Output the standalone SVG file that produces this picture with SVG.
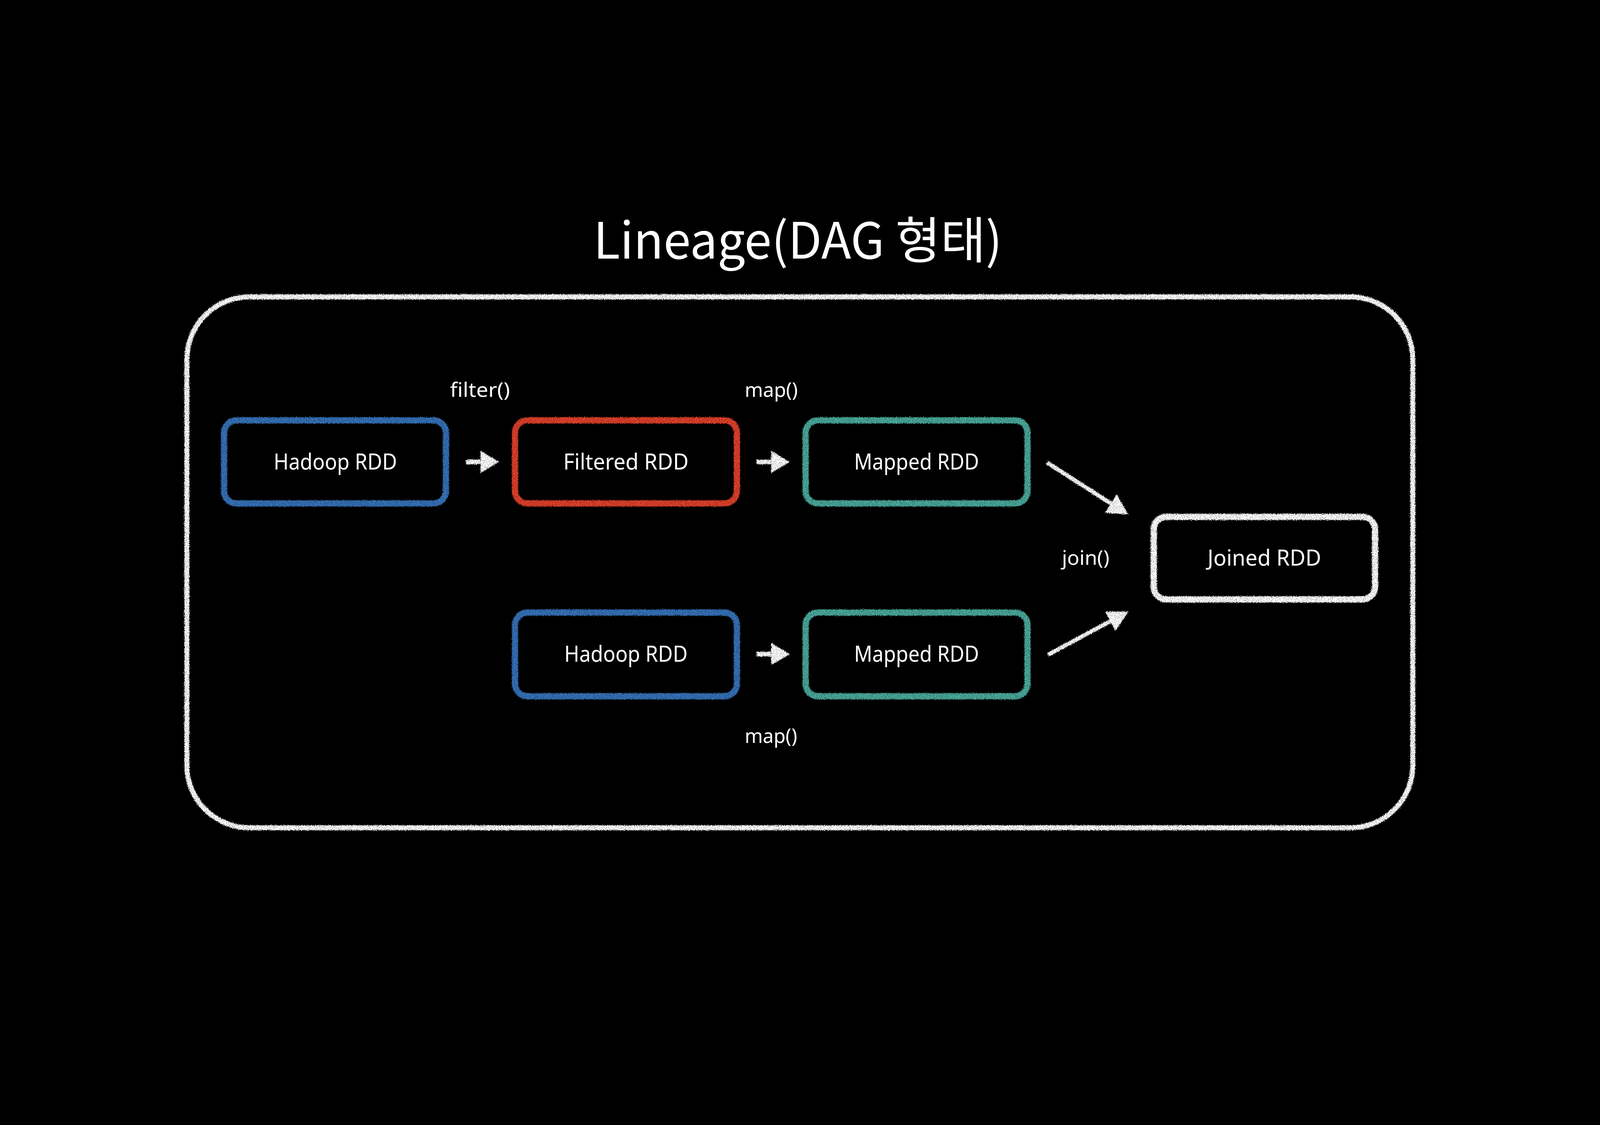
<svg xmlns="http://www.w3.org/2000/svg" width="5120" height="2880" viewBox="0 0 5120 2880" style="width:100vw;height:100vh;display:block;background:#000000">
  <style>
    .title { font-family: "Noto Sans CJK KR", "Noto Sans", sans-serif; font-size: 160px; fill: #ffffff; }
    .node-text { font-family: "Noto Sans", "Noto Sans CJK KR", sans-serif; font-size: 70px; fill: #ffffff; text-anchor: middle; }
    .edge-label { font-family: "Noto Sans", "Noto Sans CJK KR", sans-serif; font-size: 64px; fill: #ffffff; text-anchor: middle; }
    .box { fill: none; stroke-width: 20; filter: url(#chalk); }
    .blue { stroke: #3671b8; }
    .red { stroke: #e0412a; }
    .teal { stroke: #4aa89b; }
    .white { stroke: #ffffff; }
    .shaft { stroke: #ffffff; fill: none; filter: url(#chalk); }
  </style>
  <defs>
    <filter id="chalk" filterUnits="userSpaceOnUse" x="0" y="0" width="5120" height="2880">
      <feTurbulence type="fractalNoise" baseFrequency="0.4" numOctaves="2" seed="2" result="n"/>
      <feDisplacementMap in="SourceGraphic" in2="n" scale="12" xChannelSelector="R" yChannelSelector="G" result="d"/>
      <feTurbulence type="fractalNoise" baseFrequency="0.5" numOctaves="2" seed="7" result="g"/>
      <feColorMatrix in="g" type="matrix" values="0 0 0 0 0  0 0 0 0 0  0 0 0 0 0  0 0 0 -4 3.3" result="m"/>
      <feComposite in="d" in2="m" operator="in"/>
    </filter>
    <marker id="headH" markerUnits="userSpaceOnUse" markerWidth="60" markerHeight="72" viewBox="0 0 60 72" refX="0" refY="36" orient="auto">
      <path d="M0,0 L60,36 L0,72 Z" fill="#ffffff"/>
    </marker>
    <marker id="headD" markerUnits="userSpaceOnUse" markerWidth="66" markerHeight="70" viewBox="0 0 66 70" refX="0" refY="35" orient="auto">
      <path d="M0,0 L66,35 L0,70 Z" fill="#ffffff"/>
    </marker>
  </defs>

  <rect x="0" y="0" width="5120" height="2880" fill="#000000"/>

  <text class="title" x="2553" y="468" text-anchor="middle" textLength="1308" lengthAdjust="spacingAndGlyphs">Lineage(DAG 형태)</text>

  <g id="container">
    <rect x="598" y="590" width="3923" height="1699" rx="200" ry="200" fill="none" stroke="#ffffff" stroke-width="16" filter="url(#chalk)"/>
  </g>

  <g id="node-hadoop1">
    <rect class="box blue" x="717" y="985" width="710" height="266" rx="40" ry="40"/>
    <text class="node-text" x="1073" y="1143" textLength="395" lengthAdjust="spacingAndGlyphs">Hadoop RDD</text>
  </g>
  <g id="node-filtered">
    <rect class="box red" x="1648" y="985" width="710" height="266" rx="40" ry="40"/>
    <text class="node-text" x="2003" y="1143" textLength="401" lengthAdjust="spacingAndGlyphs">Filtered RDD</text>
  </g>
  <g id="node-mapped1">
    <rect class="box teal" x="2578" y="985" width="710" height="266" rx="40" ry="40"/>
    <text class="node-text" x="2933" y="1143" textLength="400" lengthAdjust="spacingAndGlyphs">Mapped RDD</text>
  </g>
  <g id="node-hadoop2">
    <rect class="box blue" x="1648" y="1600" width="710" height="268" rx="40" ry="40"/>
    <text class="node-text" x="2003" y="1757" textLength="395" lengthAdjust="spacingAndGlyphs">Hadoop RDD</text>
  </g>
  <g id="node-mapped2">
    <rect class="box teal" x="2578" y="1600" width="710" height="268" rx="40" ry="40"/>
    <text class="node-text" x="2933" y="1757" textLength="400" lengthAdjust="spacingAndGlyphs">Mapped RDD</text>
  </g>
  <g id="node-joined">
    <rect class="box white" x="3692" y="1294" width="708" height="264" rx="40" ry="40"/>
    <text class="node-text" x="4046" y="1450" textLength="364" lengthAdjust="spacingAndGlyphs">Joined RDD</text>
  </g>

  <g id="connectors">
    <line class="shaft" x1="1491" y1="1118" x2="1537" y2="1118" stroke-width="15" marker-end="url(#headH)"/>
    <line class="shaft" x1="2421" y1="1118" x2="2467" y2="1118" stroke-width="15" marker-end="url(#headH)"/>
    <line class="shaft" x1="2421" y1="1733" x2="2467" y2="1733" stroke-width="15" marker-end="url(#headH)"/>
    <line class="shaft" x1="3350" y1="1120" x2="3555" y2="1251" stroke-width="13" marker-end="url(#headD)"/>
    <line class="shaft" x1="3354" y1="1735" x2="3553" y2="1628" stroke-width="13" marker-end="url(#headD)"/>
    <text class="edge-label" x="1536" y="910" textLength="192" lengthAdjust="spacingAndGlyphs">filter()</text>
    <text class="edge-label" x="2468" y="910" textLength="170" lengthAdjust="spacingAndGlyphs">map()</text>
    <text class="edge-label" x="2467" y="2018" textLength="168" lengthAdjust="spacingAndGlyphs">map()</text>
    <text class="edge-label" x="3474" y="1447" textLength="152" lengthAdjust="spacingAndGlyphs">join()</text>
  </g>
</svg>
